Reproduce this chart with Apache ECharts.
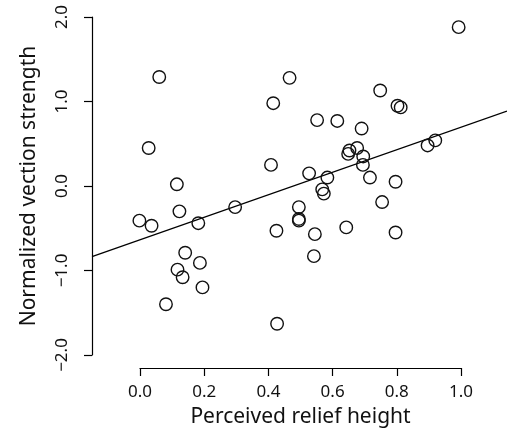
<!DOCTYPE html>
<html>
<head>
<meta charset="utf-8">
<script src="https://cdn.jsdelivr.net/npm/echarts@6/dist/echarts.min.js"></script>
<style>
html,body{margin:0;padding:0;background:#fff;}
#chart{width:507px;height:433px;}
</style>
</head>
<body>
<div id="chart"></div>
<script>
// Perceived relief height (x) vs normalized vection strength (y)
var xValues = [0.062,0.029,0.117,0.125,0.000,0.038,0.184,0.299,0.143,0.189,0.119,0.135,0.197,0.083,
  0.469,0.418,0.555,0.618,0.694,0.752,0.806,0.816,0.997,0.411,0.530,0.587,0.656,0.680,0.652,0.699,
  0.698,0.720,0.800,0.758,0.900,0.924,0.571,0.576,0.498,0.498,0.498,0.428,0.548,0.646,0.800,0.545,0.430];
var yValues = [1.29,0.45,0.02,-0.30,-0.41,-0.47,-0.44,-0.25,-0.79,-0.91,-0.99,-1.08,-1.20,-1.40,
  1.28,0.98,0.78,0.77,0.68,1.13,0.95,0.93,1.88,0.25,0.15,0.10,0.42,0.45,0.38,0.35,
  0.25,0.10,0.05,-0.19,0.48,0.54,-0.04,-0.09,-0.25,-0.39,-0.41,-0.53,-0.57,-0.49,-0.55,-0.83,-1.63];
// regression line end points (read at the plot region edges)
var fitX = [-0.148, 1.148];
var fitY = [-0.837, 0.886];
var xTickValues = [0, 0.2, 0.4, 0.6, 0.8, 1.0];
var xTickLabels = ['0.0','0.2','0.4','0.6','0.8','1.0'];
var yTickValues = [-2, -1, 0, 1, 2];
var yTickLabels = ['\u22122.0','\u22121.0','0.0','1.0','2.0'];
var xTitle = 'Perceived relief height';
var yTitle = 'Normalized vection strength';

var points = xValues.map(function(x, i){ return [x, yValues[i]]; });
var fitLine = fitX.map(function(x, i){ return [x, fitY[i]]; });
function lab(values, labels){
  return function(v){
    for (var i = 0; i < values.length; i++) if (Math.abs(values[i] - v) < 1e-6) return labels[i];
    return '';
  };
}
var FONT = 'Noto Sans';
var chart = echarts.init(document.getElementById('chart'), null, {renderer:'canvas'});
chart.setOption({
  backgroundColor: '#ffffff',
  animation: false,
  grid: [
    {left: 92, top: 3.5, width: 416.5, height: 365},
    {left: 140, top: 17, width: 321, height: 338}
  ],
  xAxis: [
    {gridIndex: 0, type: 'value', min: -0.148, max: 1.148, show: false},
    {gridIndex: 1, type: 'value', min: 0, max: 1, interval: 0.2, position: 'bottom', offset: 13,
     axisLine: {show: true, onZero: false, lineStyle: {color: '#000', width: 1.2}},
     axisTick: {show: true, inside: false, length: 8, lineStyle: {color: '#000', width: 1.2}},
     splitLine: {show: false},
     axisLabel: {show: true, margin: 16, color: '#111', fontFamily: FONT, fontSize: 17,
       formatter: lab(xTickValues, xTickLabels), showMinLabel: true, showMaxLabel: true},
     name: xTitle, nameLocation: 'middle', nameGap: 39,
     nameTextStyle: {color: '#111', fontFamily: FONT, fontSize: 21}}
  ],
  yAxis: [
    {gridIndex: 0, type: 'value', min: -2.16, max: 2.16, show: false},
    {gridIndex: 1, type: 'value', min: -2, max: 2, interval: 1, position: 'left', offset: 48,
     axisLine: {show: true, onZero: false, lineStyle: {color: '#000', width: 1.2}},
     axisTick: {show: true, inside: false, length: 8, lineStyle: {color: '#000', width: 1.2}},
     splitLine: {show: false},
     axisLabel: {show: true, margin: 21, rotate: 90, color: '#111', fontFamily: FONT, fontSize: 17,
       formatter: lab(yTickValues, yTickLabels), showMinLabel: true, showMaxLabel: true},
     name: yTitle, nameLocation: 'middle', nameGap: 52, nameRotate: 90,
     nameTextStyle: {color: '#111', fontFamily: FONT, fontSize: 21}}
  ],
  series: [
    {type: 'line', xAxisIndex: 0, yAxisIndex: 0, data: fitLine, showSymbol: false, symbol: 'none',
     lineStyle: {color: '#000', width: 1.3}, silent: true, clip: true, z: 2},
    {type: 'scatter', xAxisIndex: 0, yAxisIndex: 0, data: points, symbol: 'circle', symbolSize: 12.5,
     itemStyle: {color: 'rgba(0,0,0,0)', borderColor: '#111', borderWidth: 1.4, opacity: 1}, z: 3},
    {type: 'scatter', xAxisIndex: 1, yAxisIndex: 1, data: [], silent: true}
  ]
});
</script>
</body>
</html>
